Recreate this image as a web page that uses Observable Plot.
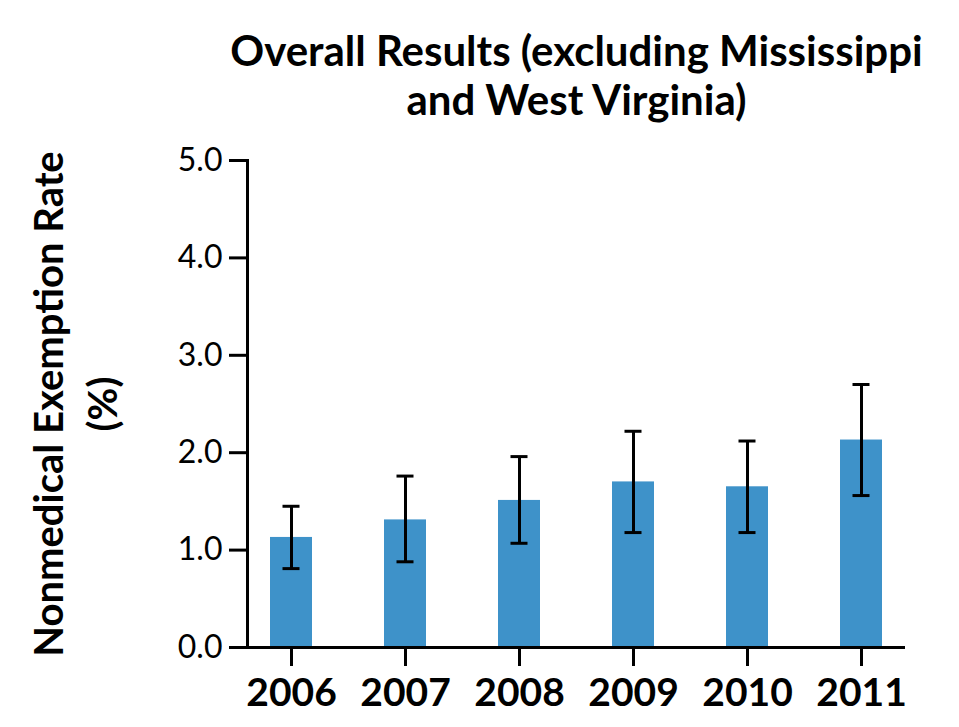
<!DOCTYPE html>
<html>
<head>
<meta charset="utf-8">
<script src="https://cdn.jsdelivr.net/npm/d3@7"></script>
<script src="https://cdn.jsdelivr.net/npm/@observablehq/plot@0.6"></script>
<style>
  html, body { margin: 0; padding: 0; background: #fff; }
  svg { display: block; }
</style>
</head>
<body>
<div id="chart"></div>
<script>
const years = ["2006", "2007", "2008", "2009", "2010", "2011"];
const rates = [1.13, 1.31, 1.51, 1.70, 1.65, 2.13];
const lower = [0.81, 0.88, 1.07, 1.18, 1.18, 1.56];
const upper = [1.45, 1.76, 1.96, 2.22, 2.12, 2.70];
const yTicks = [0, 1, 2, 3, 4, 5];
const titleText = "Overall Results (excluding Mississippi\nand West Virginia)";
const yLabel = "Nonmedical Exemption Rate\n(%)";

const data = years.map((y, i) => ({year: y, rate: rates[i], lo: lower[i], hi: upper[i]}));

const chart = Plot.plot({
  width: 959,
  height: 727,
  marginLeft: 247,
  marginRight: 54,
  marginTop: 160,
  marginBottom: 80,
  style: {fontFamily: "Lato, sans-serif", color: "#000", background: "#fff"},
  x: {domain: years, paddingInner: 0.632, paddingOuter: 0.2, label: null},
  y: {domain: [0, 5], label: null},
  marks: [
    Plot.barY(data, {x: "year", y: "rate", fill: "#3e92c9"}),
    Plot.ruleX(data, {x: "year", y1: "lo", y2: "hi", stroke: "#000", strokeWidth: 3}),
    Plot.tickY(data, {x: "year", y: "lo", stroke: "#000", strokeWidth: 3, insetLeft: 12.5, insetRight: 12.5}),
    Plot.tickY(data, {x: "year", y: "hi", stroke: "#000", strokeWidth: 3, insetLeft: 12.5, insetRight: 12.5}),
    Plot.axisY({ticks: yTicks, tickFormat: d3.format(".1f"), tickSize: 18, tickPadding: 7, strokeWidth: 3, fontSize: 32, label: null}),
    Plot.axisX({tickSize: 19, tickPadding: 12, strokeWidth: 3, fontSize: 39, fontWeight: "bold", label: null}),
    Plot.ruleY([0], {stroke: "#000", strokeWidth: 3}),
    Plot.frame({anchor: "left", stroke: "#000", strokeWidth: 3}),
    Plot.text([titleText], {frameAnchor: "top", lineAnchor: "bottom", dy: -46, fontSize: 42, fontWeight: "bold", lineHeight: 1.15, fill: "#000"}),
    Plot.text([yLabel], {frameAnchor: "left", dx: -175, rotate: -90, textAnchor: "middle", lineAnchor: "middle", fontSize: 40, fontWeight: "bold", lineHeight: 1.35, fill: "#000"})
  ]
});
document.getElementById("chart").appendChild(chart);
</script>
</body>
</html>
